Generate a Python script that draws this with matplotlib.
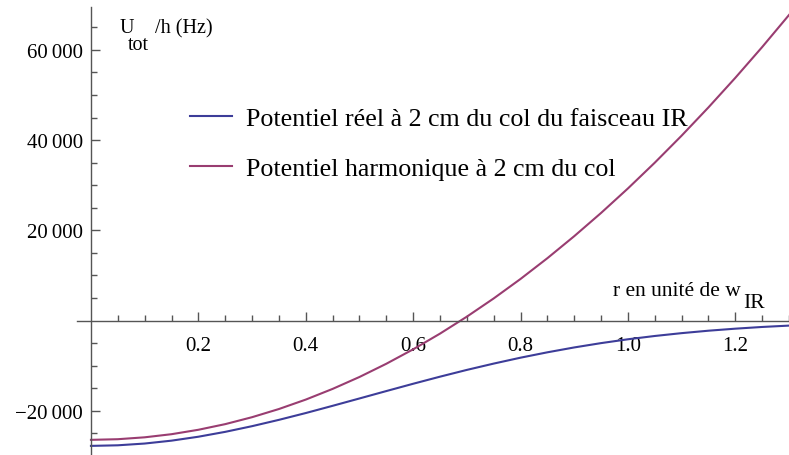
import matplotlib.pyplot as plt
from matplotlib.ticker import FixedLocator, FixedFormatter

plt.rcParams['font.family'] = ['Liberation Serif', 'DejaVu Serif']

# r en unite de w_IR
r = [0.0, 0.05, 0.1, 0.15, 0.2, 0.25, 0.3, 0.35, 0.4, 0.45, 0.5, 0.55, 0.6, 0.65,
     0.7, 0.75, 0.8, 0.85, 0.9, 0.95, 1.0, 1.05, 1.1, 1.15, 1.2, 1.25, 1.3]

# potentiel reel (gaussien) en Hz
u_reel = [-27780, -27650, -27260, -26620, -25750, -24670, -23410, -22010, -20500,
          -18900, -17270, -15630, -14010, -12440, -10940, -9540, -8230, -7040,
          -5960, -5000, -4150, -3420, -2790, -2250, -1800, -1420, -1120]

# potentiel harmonique en Hz
u_harm = [-26440, -26300, -25880, -25190, -24210, -22960, -21420, -19610, -17520,
          -15150, -12510, -9580, -6380, -2900, 860, 4900, 9220, 13820, 18700,
          23850, 29280, 34990, 40980, 47250, 53800, 60620, 67730]

labels = ["Potentiel réel à 2 cm du col du faisceau IR",
          "Potentiel harmonique à 2 cm du col"]
colors = ["#3d3d99", "#993d71"]

x_ticks = [0.2, 0.4, 0.6, 0.8, 1.0, 1.2]
x_tick_labels = ["0.2", "0.4", "0.6", "0.8", "1.0", "1.2"]
x_minor = [0.05, 0.1, 0.15, 0.25, 0.3, 0.35, 0.45, 0.5, 0.55, 0.65, 0.7, 0.75,
           0.85, 0.9, 0.95, 1.05, 1.1, 1.15, 1.25, 1.3]
y_ticks = [-20000, 20000, 40000, 60000]
y_tick_labels = ["\u221220\u2009000", "20\u2009000", "40\u2009000", "60\u2009000"]
y_minor = [-25000, -15000, -10000, -5000, 5000, 10000, 15000, 25000, 30000, 35000,
           45000, 50000, 55000, 65000]

fig = plt.figure(figsize=(7.89, 4.56), dpi=100)
ax = fig.add_axes([77 / 789, 0, 1 - 77 / 789, 448 / 456])

ax.plot(r, u_reel, color=colors[0], lw=1.5, label=labels[0])
ax.plot(r, u_harm, color=colors[1], lw=1.5, label=labels[1])

ax.set_xlim(-0.026, 1.3)
ax.set_ylim(-29800, 69500)

for s in ['top', 'right']:
    ax.spines[s].set_visible(False)
ax.spines['left'].set_position(('data', 0))
ax.spines['bottom'].set_position(('data', 0))
for s in ['left', 'bottom']:
    ax.spines[s].set_color('#555555')
    ax.spines[s].set_linewidth(1.0)

ax.xaxis.set_major_locator(FixedLocator(x_ticks))
ax.xaxis.set_major_formatter(FixedFormatter(x_tick_labels))
ax.xaxis.set_minor_locator(FixedLocator(x_minor))
ax.yaxis.set_major_locator(FixedLocator(y_ticks))
ax.yaxis.set_major_formatter(FixedFormatter(y_tick_labels))
ax.yaxis.set_minor_locator(FixedLocator(y_minor))

ax.tick_params(which='both', direction='in', color='#555555', width=1.0,
               labelsize=15)
ax.tick_params(which='major', length=6.3)
ax.tick_params(which='minor', length=4)
ax.tick_params(axis='x', which='major', pad=11)
ax.tick_params(axis='y', which='major', pad=6)

# titre de l'axe vertical : U, indice tot, puis /h (Hz)
ax.text(0.054, 63900, "U", fontsize=14.5, ha='left', va='baseline')
ax.text(0.069, 60150, "tot", fontsize=14.5, ha='left', va='baseline')
ax.text(0.119, 63900, "/h (Hz)", fontsize=14.5, ha='left', va='baseline')

# titre de l'axe horizontal
ax.text(0.973, 5690, "r en unité de w", fontsize=15.5, ha='left', va='baseline')
ax.text(1.215, 3030, "IR", fontsize=15.5, ha='left', va='baseline')

ax.legend(loc='upper left', bbox_to_anchor=(190 / 789, 1 - 108 / 456),
          bbox_transform=fig.transFigure, frameon=False, borderpad=0,
          borderaxespad=0, fontsize=18.7, handlelength=1.6, handletextpad=0.57,
          labelspacing=1.04)

fig.savefig("out.png", dpi=100)
